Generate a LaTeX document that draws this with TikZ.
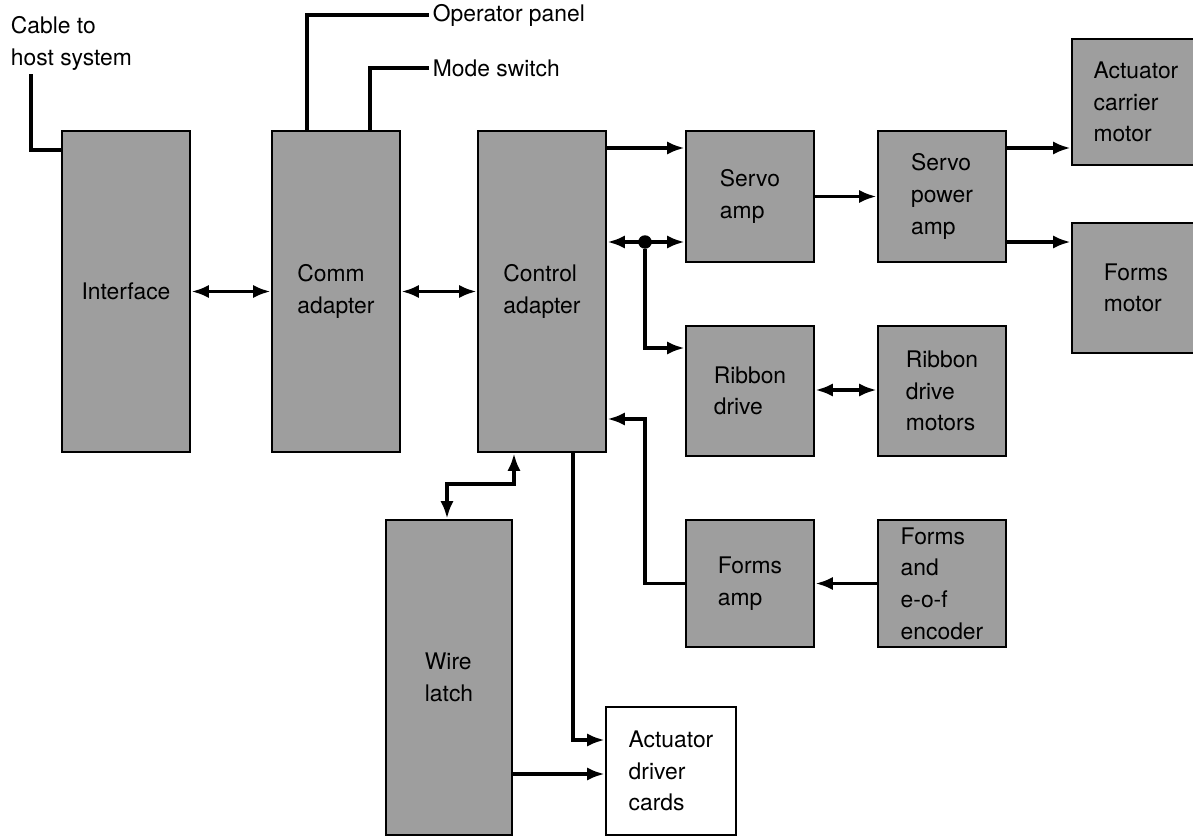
\documentclass[tikz,border=0pt]{standalone}
\usepackage{fontspec}
\setmainfont{TeX Gyre Heros}
\usetikzlibrary{arrows.meta}

\begin{document}
\begin{tikzpicture}[
  >={Latex[length=10pt,width=7.5pt]},
  blk/.style={draw=black, line width=1.5pt, rectangle, fill=black!38,
              inner sep=2pt, align=left, minimum width=2.56cm,
              font=\fontsize{13}{18}\selectfont},
  wbox/.style={blk, fill=white},
  conn/.style={line width=2.2pt},
  lbl/.style={font=\fontsize{13}{18}\selectfont, align=left, inner sep=2pt},
  dot/.style={circle, fill=black, inner sep=0pt, minimum size=0.27cm}
]
\useasboundingbox (0,0) rectangle (23.86,-16.74);

% ===== column centres =====
\def\xIf{2.52}     % interface
\def\xCo{6.72}     % comm adapter
\def\xCt{10.84}    % control adapter
\def\xWl{8.98}     % wire latch
\def\xAm{15.0}     % amp column
\def\xMo{18.84}    % motor column
\def\xOut{22.72}   % right column (runs off the page)

% ===== tall blocks =====
\node[blk, minimum height=6.42cm] (Interface) at (\xIf, -5.83) {Interface};
\node[blk, minimum height=6.42cm] (Comm) at (\xCo, -5.83) {Comm\\adapter};
\node[blk, minimum height=6.42cm] (Control) at (\xCt, -5.83) {Control\\adapter};
\node[blk, minimum width=2.52cm, minimum height=6.3cm] (WireLatch) at (\xWl, -13.55) {Wire\\latch};

% ===== servo row =====
\node[blk, minimum height=2.62cm] (Servo) at (\xAm, -3.93) {Servo\\amp};
\node[blk, minimum height=2.62cm] (ServoPwr) at (\xMo, -3.93) {Servo\\power\\amp};
\node[blk, minimum height=2.52cm] (ActMotor) at (\xOut, -2.04) {Actuator\\carrier\\motor};
\node[blk, minimum height=2.6cm] (FormsMotor) at (\xOut, -5.76) {Forms\\motor};

% ===== ribbon row =====
\node[blk, minimum height=2.6cm] (Ribbon) at (\xAm, -7.82) {Ribbon\\drive};
\node[blk, minimum height=2.6cm] (RibbonMot) at (\xMo, -7.82) {Ribbon\\drive\\motors};

% ===== forms row =====
\node[blk, minimum height=2.54cm] (FormsAmp) at (\xAm, -11.67) {Forms\\amp};
\node[blk, minimum height=2.54cm] (Encoder) at (\xMo, -11.67) {Forms\\and\\e-o-f\\encoder};

% ===== driver cards =====
\node[wbox, minimum width=2.6cm, minimum height=2.56cm] (Driver) at (13.42, -15.42) {Actuator\\driver\\cards};

% ===== outside labels =====
\node[lbl, anchor=north west] (Cable) at (0.14,-0.26) {Cable to\\host system};
\node[lbl, anchor=west] (OpPanel) at (8.58,-0.3) {Operator panel};
\node[lbl, anchor=west] (ModeSw) at (8.58,-1.36) {Mode switch};

\draw[conn] (Cable.south -| 0.62,0) |- (Interface.west |- 0,-3.0);
\draw[conn] (Comm.north -| 6.14,0) |- (OpPanel.west);
\draw[conn] (Comm.north -| 7.4,0) |- (ModeSw.west);

% ===== main bus =====
\draw[conn, <->] (Interface.east) -- (Comm.west);
\draw[conn, <->] (Comm.east) -- (Control.west);

% ===== servo path =====
\draw[conn, ->] (Control.east |- 0,-2.96) -- (Servo.west |- 0,-2.96);
\draw[conn, <->] (Control.east |- 0,-4.84) -- (Servo.west |- 0,-4.84);
\node[dot] (J) at (12.9,-4.84) {};
\draw[conn, ->] (J) |- (Ribbon.west |- 0,-6.96);
\draw[conn, ->] (Servo.east) -- (ServoPwr.west);
\draw[conn, ->] (ServoPwr.east |- 0,-2.96) -- (ActMotor.west |- 0,-2.96);
\draw[conn, ->] (ServoPwr.east |- 0,-4.84) -- (FormsMotor.west |- 0,-4.84);

% ===== ribbon / forms =====
\draw[conn, <->] (Ribbon.east |- 0,-7.8) -- (RibbonMot.west |- 0,-7.8);
\draw[conn, ->] (Encoder.west) -- (FormsAmp.east);
\draw[conn, ->] (FormsAmp.west) -| (12.9,-8.38) -- (Control.east |- 0,-8.38);

% ===== wire latch and drivers =====
\draw[conn, <->] (Control.south -| 10.28,0) |- (8.94,-9.68) -- (WireLatch.north -| 8.94,0);
\draw[conn, ->] (Control.south -| 11.46,0) |- (Driver.west |- 0,-14.8);
\draw[conn, ->] (WireLatch.east |- 0,-15.48) -- (Driver.west |- 0,-15.48);

\end{tikzpicture}
\end{document}
